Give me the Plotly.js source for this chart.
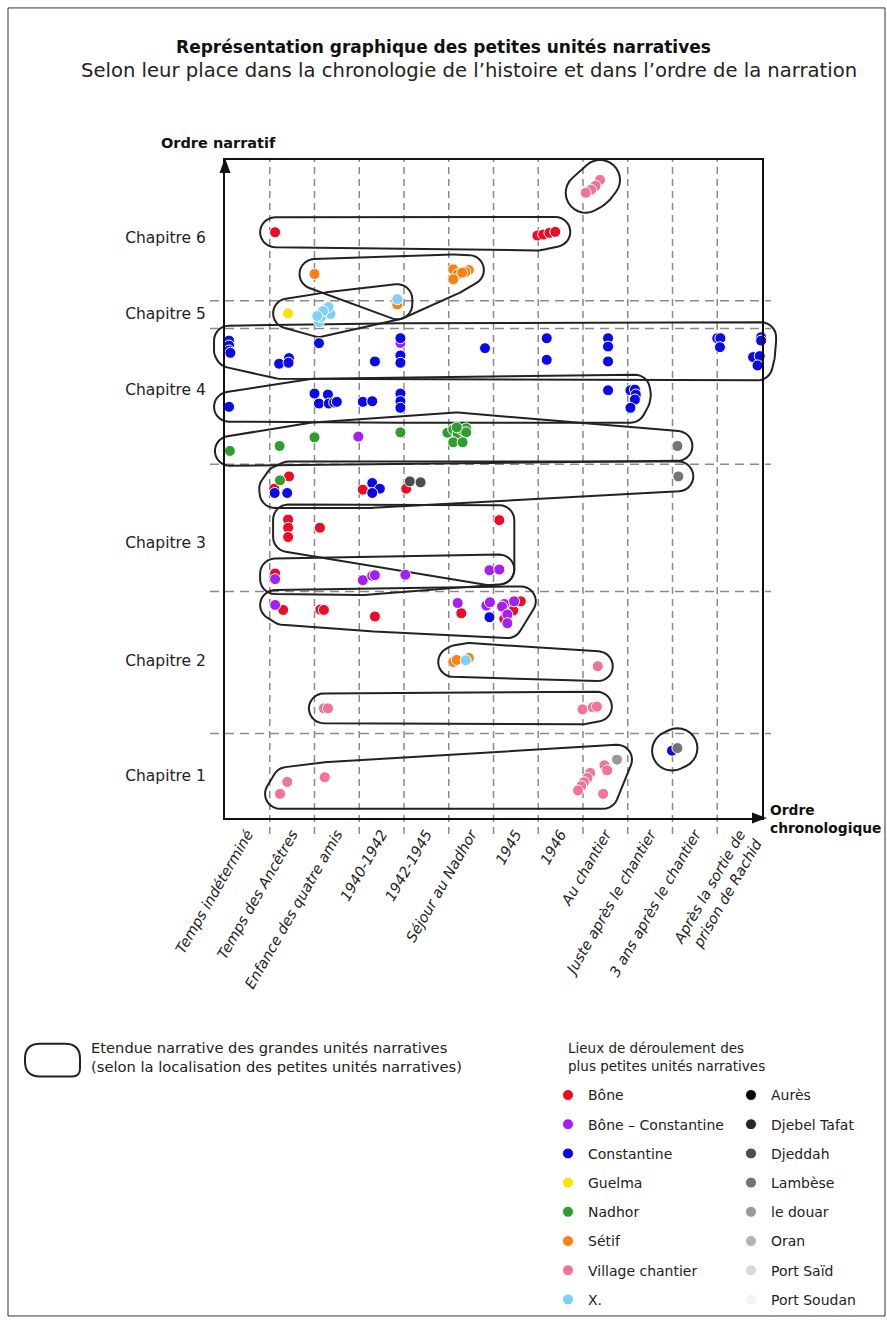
<!DOCTYPE html>
<html>
<head>
<meta charset="utf-8">
<script src="https://cdn.plot.ly/plotly-3.0.1.min.js"></script>
<style>body{margin:0;background:#fff}</style>
</head>
<body>
<div id="chart" style="width:887px;height:1328px"></div>
<script>
// periods of the story (x axis), one band per period
const periods = ['Temps indéterminé', 'Temps des Ancêtres', 'Enfance des quatre amis', '1940-1942', '1942-1945',
    'Séjour au Nadhor', '1945', '1946', 'Au chantier', 'Juste après le chantier', '3 ans après le chantier',
    'Après la sortie de<br>prison de Rachid'];

// narrative order (y axis)
const chapters = ['Chapitre 1', 'Chapitre 2', 'Chapitre 3', 'Chapitre 4', 'Chapitre 5', 'Chapitre 6'];
const chapterLabelY = [4.3, 15.8, 27.7, 43.1, 50.7, 58.4];
const chapterBreaks = [8.5, 22.8, 35.6, 49.25, 52.05];

// places where the smallest units happen
const places = ['Bône', 'Bône – Constantine', 'Constantine', 'Guelma', 'Nadhor', 'Sétif', 'Village chantier', 'X.',
    'Aurès', 'Djebel Tafat', 'Djeddah', 'Lambèse', 'le douar', 'Oran', 'Port Saïd', 'Port Soudan'];
const placeCodes = ['B', 'BC', 'C', 'G', 'N', 'S', 'V', 'X', 'AU', 'DT', 'DJ', 'LA', 'DO', 'OR', 'PS', 'PSO'];
const placeColors = ['#ec0c24', '#a61ef0', '#0a0ae6', '#ffe200', '#2f9e2f', '#fb8112', '#f27396', '#7fd0f6',
    '#000000', '#262626', '#4d4d4d', '#747474', '#999999', '#b3b3b3', '#d9d9d9', '#f4f4f4'];

// petites unités narratives [time, narrative order, place], grouped by grande unité
const uniteChap6Haut = [[8.38, 64.2, 'V'], [8.28, 63.6, 'V'], [8.18, 63.2, 'V'], [8.06, 62.9, 'V']];
const uniteChap6 = [[1.12, 58.93, 'B'], [6.98, 58.6, 'B'], [7.11, 58.7, 'B'], [7.25, 58.87, 'B'], [7.38, 58.97, 'B']];
const uniteSetif = [[2.0, 54.73, 'S'], [5.10, 55.2, 'S'], [5.20, 54.7, 'S'], [5.10, 54.2, 'S'], [5.45, 55.13, 'S'],
    [5.37, 54.93, 'S'], [5.30, 54.87, 'S'], [3.85, 51.67, 'S']];
const uniteChap5 = [[1.41, 50.77, 'G'], [2.10, 49.9, 'X'], [2.23, 50.9, 'X'], [2.36, 50.7, 'X'], [2.31, 51.4, 'X'],
    [2.14, 50.4, 'X'], [2.19, 51.0, 'X'], [2.06, 50.5, 'X'], [3.85, 52.2, 'X'], [3.85, 51.67, 'S']];
const uniteChap45 = [[0.09, 48.03, 'C'], [0.09, 47.53, 'C'], [0.09, 47.03, 'C'], [0.12, 46.8, 'C'], [1.21, 45.7, 'C'],
    [1.43, 46.27, 'C'], [1.42, 45.8, 'C'], [2.10, 47.77, 'C'], [3.35, 45.93, 'C'], [3.92, 48.27, 'C'], [3.92, 47.8, 'BC'],
    [3.92, 46.53, 'C'], [3.92, 45.8, 'C'], [5.81, 47.27, 'C'], [7.19, 48.27, 'C'], [7.19, 46.1, 'C'], [8.56, 48.27, 'C'],
    [8.56, 47.43, 'C'], [8.56, 45.93, 'C'], [11.0, 48.27, 'C'], [11.07, 48.27, 'C'], [11.06, 47.37, 'C'],
    [11.98, 48.37, 'C'], [11.98, 48.03, 'C'], [11.80, 46.37, 'C'], [11.95, 46.47, 'C'], [11.90, 45.53, 'C']];
const uniteChap4 = [[0.09, 41.37, 'C'], [2.0, 42.7, 'C'], [2.30, 42.6, 'C'], [2.10, 41.7, 'C'], [2.32, 41.7, 'C'],
    [2.44, 41.8, 'C'], [2.50, 41.87, 'C'], [3.08, 41.87, 'C'], [3.29, 41.93, 'C'], [3.92, 42.7, 'C'], [3.92, 41.93, 'C'],
    [3.92, 41.27, 'C'], [8.56, 43.03, 'C'], [9.06, 43.03, 'C'], [9.16, 43.1, 'C'], [9.18, 42.6, 'C'], [9.16, 42.1, 'C'],
    [9.06, 41.27, 'C']];
const uniteNadhor = [[0.11, 36.93, 'N'], [1.22, 37.43, 'N'], [2.0, 38.3, 'N'], [2.98, 38.37, 'BC'], [3.92, 38.8, 'N'],
    [4.97, 38.77, 'N'], [5.10, 39.1, 'N'], [5.20, 38.7, 'N'], [5.30, 39.03, 'N'], [5.39, 39.2, 'N'], [5.39, 38.8, 'N'],
    [5.10, 37.8, 'N'], [5.31, 37.8, 'N'], [5.18, 39.3, 'N'], [10.11, 37.43, 'LA']];
const uniteChap34 = [[1.23, 33.97, 'N'], [1.43, 34.37, 'B'], [1.10, 33.13, 'B'], [1.11, 32.7, 'C'], [1.39, 32.7, 'C'],
    [3.08, 33.03, 'B'], [3.29, 33.7, 'C'], [3.46, 33.13, 'C'], [3.29, 32.7, 'C'], [4.05, 33.13, 'B'], [4.13, 33.87, 'DJ'],
    [4.37, 33.77, 'DJ'], [10.13, 34.37, 'LA']];
const uniteChap3a = [[1.41, 30.03, 'B'], [1.41, 29.2, 'B'], [1.41, 28.27, 'B'], [2.12, 29.2, 'B'], [6.13, 29.97, 'B'],
    [5.91, 24.93, 'BC'], [6.13, 25.0, 'BC']];
const uniteChap3b = [[1.12, 24.6, 'B'], [1.12, 24.03, 'BC'], [3.08, 23.93, 'BC'], [3.29, 24.37, 'BC'], [3.35, 24.43, 'BC'],
    [4.03, 24.47, 'BC'], [5.91, 24.93, 'BC'], [6.13, 25.0, 'BC']];
const uniteChap2a = [[1.12, 21.43, 'BC'], [1.30, 20.93, 'B'], [2.13, 20.97, 'B'], [2.21, 20.93, 'B'], [3.35, 20.27, 'B'],
    [5.20, 21.63, 'BC'], [5.28, 20.6, 'B'], [5.84, 21.37, 'BC'], [5.92, 21.7, 'BC'], [6.24, 21.53, 'BC'],
    [6.19, 21.27, 'BC'], [6.46, 21.8, 'BC'], [6.61, 21.8, 'B'], [5.91, 20.2, 'C'], [6.44, 20.87, 'B'], [6.28, 20.6, 'B'],
    [6.24, 20.03, 'B'], [6.31, 20.47, 'BC'], [6.31, 19.6, 'BC']];
const uniteChap2b = [[5.10, 15.7, 'S'], [5.18, 15.9, 'S'], [5.45, 16.1, 'S'], [5.38, 15.87, 'X'], [8.33, 15.27, 'V']];
const uniteChap2c = [[2.21, 11.03, 'V'], [2.30, 11.03, 'V'], [7.99, 10.93, 'V'], [8.22, 11.13, 'V'], [8.31, 11.2, 'V']];
const uniteChap1a = [[1.39, 3.63, 'V'], [1.23, 2.43, 'V'], [2.23, 4.1, 'V'], [8.16, 4.53, 'V'], [8.10, 4.03, 'V'],
    [8.02, 3.6, 'V'], [7.96, 3.2, 'V'], [7.89, 2.77, 'V'], [8.48, 5.3, 'V'], [8.54, 4.8, 'V'], [8.45, 2.43, 'V'],
    [8.76, 5.87, 'DO']];
const uniteChap1b = [[9.99, 6.77, 'C'], [10.11, 7.03, 'LA']];

const grandesUnites = [uniteChap6Haut, uniteChap6, uniteSetif, uniteChap5, uniteChap45, uniteChap4, uniteNadhor,
    uniteChap34, uniteChap3a, uniteChap3b, uniteChap2a, uniteChap2b, uniteChap2c, uniteChap1a, uniteChap1b];


const FONT = 'DejaVu Sans, sans-serif';
const W = 887, H = 1328;
const M = { l: 225, r: 125, t: 160, b: 506 };
const plotW = W - M.l - M.r;
const plotH = H - M.t - M.b;
const X_MAX = periods.length;
const Y_MAX = 66.2;
const paperX = px => (px - M.l) / plotW;
const paperY = py => (H - M.b - py) / plotH;

// one trace per place, a unit shared by two grandes unités is drawn once
const seen = new Set();
const byPlace = placeCodes.map(() => ({ x: [], y: [] }));
grandesUnites.forEach(gu => gu.forEach(([x, y, code]) => {
    const key = x + '|' + y + '|' + code;
    if (seen.has(key)) return;
    seen.add(key);
    const i = placeCodes.indexOf(code);
    byPlace[i].x.push(x);
    byPlace[i].y.push(y);
}));

const traces = places.map((name, i) => ({
    type: 'scatter',
    mode: 'markers',
    name: name,
    x: byPlace[i].x.length ? byPlace[i].x : [null],
    y: byPlace[i].y.length ? byPlace[i].y : [null],
    marker: { color: placeColors[i], size: 11, line: { color: '#fff', width: 1 } },
    cliponaxis: false,
    legend: i < 8 ? 'legend' : 'legend2',
    legendgroup: name,
    hoverinfo: 'name',
}));

// outline around a grande unité: convex hull of its points, padded
function hull(pts) {
    const p = pts.slice().sort((a, b) => a[0] - b[0] || a[1] - b[1]);
    if (p.length < 2) return p;
    const cross = (o, a, b) => (a[0] - o[0]) * (b[1] - o[1]) - (a[1] - o[1]) * (b[0] - o[0]);
    const lower = [], upper = [];
    for (const q of p) {
        while (lower.length >= 2 && cross(lower[lower.length - 2], lower[lower.length - 1], q) <= 0) lower.pop();
        lower.push(q);
    }
    for (const q of p.slice().reverse()) {
        while (upper.length >= 2 && cross(upper[upper.length - 2], upper[upper.length - 1], q) <= 0) upper.pop();
        upper.push(q);
    }
    lower.pop(); upper.pop();
    return lower.concat(upper);
}

function loopPath(points, pad) {
    const sx = plotW / X_MAX, sy = plotH / Y_MAX;
    const h = hull(points.map(([x, y]) => [x * sx, y * sy]));
    const ring = [];
    if (h.length === 1) {
        for (let k = 0; k < 36; k++) {
            const a = k * Math.PI / 18;
            ring.push([h[0][0] + pad * Math.cos(a), h[0][1] + pad * Math.sin(a)]);
        }
    } else {
        const n = h.length;
        for (let i = 0; i < n; i++) {
            const prev = h[(i - 1 + n) % n], cur = h[i], next = h[(i + 1) % n];
            const a0 = Math.atan2(-(cur[0] - prev[0]), cur[1] - prev[1]);
            const a1 = Math.atan2(-(next[0] - cur[0]), next[1] - cur[1]);
            let sweep = a1 - a0;
            while (sweep < 0) sweep += 2 * Math.PI;
            const steps = Math.max(2, Math.ceil(sweep / (Math.PI / 14)));
            for (let k = 0; k <= steps; k++) {
                const a = a0 + sweep * k / steps;
                ring.push([cur[0] + pad * Math.cos(a), cur[1] + pad * Math.sin(a)]);
            }
        }
    }
    return 'M' + ring.map(([X, Y]) => (X / sx / X_MAX).toFixed(5) + ',' + (Y / sy / Y_MAX).toFixed(5)).join('L') + 'Z';
}

const shapes = [];

// dashed period separators and chapter separators
for (let i = 1; i < X_MAX; i++) {
    shapes.push({ type: 'line', xref: 'x', yref: 'paper', x0: i, x1: i, y0: paperY(838), y1: 1,
        line: { color: '#8a8a8a', width: 1.5, dash: '7px,5px' }, layer: 'below' });
}
chapterBreaks.forEach(y => {
    shapes.push({ type: 'line', xref: 'paper', yref: 'y', x0: paperX(210), x1: paperX(771), y0: y, y1: y,
        line: { color: '#8a8a8a', width: 1.5, dash: '9px,6px' }, layer: 'below' });
});

grandesUnites.forEach(gu => {
    const pad = gu.length <= 4 ? 20 : 15;
    shapes.push({ type: 'path', xref: 'x domain', yref: 'y domain', path: loopPath(gu, pad),
        line: { color: '#222', width: 2 }, fillcolor: 'rgba(0,0,0,0)', layer: 'below' });
});

// axis arrow heads
const tri = (pts) => 'M' + pts.map(([a, b]) => paperX(a).toFixed(5) + ',' + paperY(b).toFixed(5)).join('L') + 'Z';
shapes.push({ type: 'path', xref: 'paper', yref: 'paper', path: tri([[225, 158], [219.5, 173], [230.5, 173]]),
    fillcolor: '#111', line: { width: 0 } });
shapes.push({ type: 'path', xref: 'paper', yref: 'paper', path: tri([[767, 822], [752, 816.5], [752, 827.5]]),
    fillcolor: '#111', line: { width: 0 } });

// legend key for the outlines
(function () {
    const x0 = 25, x1 = 80, y0 = 1049, y1 = 1082, r = 15;
    const P = (a, b) => paperX(a).toFixed(5) + ',' + paperY(b).toFixed(5);
    const path = 'M' + P(x0 + r, y0) + 'L' + P(x1 - r, y0) + 'Q' + P(x1, y0) + ' ' + P(x1, y0 + r) +
        'L' + P(x1, y1 - 8) + 'Q' + P(x1, y1) + ' ' + P(x1 - 8, y1) + 'L' + P(x0 + r, y1) +
        'Q' + P(x0, y1) + ' ' + P(x0, y1 - r) + 'L' + P(x0, y0 + r) + 'Q' + P(x0, y0) + ' ' + P(x0 + r, y0) + 'Z';
    shapes.push({ type: 'path', xref: 'paper', yref: 'paper', path: path, line: { color: '#222', width: 2 } });
})();

// page frame
shapes.push({ type: 'rect', xref: 'paper', yref: 'paper', x0: paperX(8), x1: paperX(885), y0: paperY(1323), y1: paperY(7),
    line: { color: '#333', width: 1 } });

const annotations = [
    { text: 'Selon leur place dans la chronologie de l’histoire et dans l’ordre de la narration',
        xref: 'paper', yref: 'paper', x: paperX(469), y: paperY(70), xanchor: 'center', yanchor: 'middle',
        showarrow: false, font: { family: FONT, size: 19.6, color: '#222' } },
    { text: '<b>Ordre narratif</b>', xref: 'paper', yref: 'paper', x: paperX(159), y: paperY(143),
        xanchor: 'left', yanchor: 'middle', showarrow: false, font: { family: FONT, size: 14.5, color: '#111' } },
    { text: '<b>Ordre<br>chronologique</b>', xref: 'paper', yref: 'paper', x: paperX(768), y: paperY(823),
        xanchor: 'left', yanchor: 'middle', align: 'left', showarrow: false, font: { family: FONT, size: 13.8, color: '#111' } },
    { text: 'Etendue narrative des grandes unités narratives<br>(selon la localisation des petites unités narratives)',
        xref: 'paper', yref: 'paper', x: paperX(89), y: paperY(1062), xanchor: 'left', yanchor: 'middle', align: 'left',
        showarrow: false, font: { family: FONT, size: 14.7, color: '#222' } },
    { text: 'Lieux de déroulement des<br>plus petites unités narratives',
        xref: 'paper', yref: 'paper', x: paperX(566), y: paperY(1062), xanchor: 'left', yanchor: 'middle', align: 'left',
        showarrow: false, font: { family: FONT, size: 13.5, color: '#222' } },
];

const legendBase = {
    yanchor: 'top', xanchor: 'left', traceorder: 'grouped', tracegroupgap: 8,
    font: { family: FONT, size: 14, color: '#222' }, bgcolor: 'rgba(0,0,0,0)', borderwidth: 0,
};

const layout = {
    width: W,
    height: H,
    margin: M,
    paper_bgcolor: '#fff',
    plot_bgcolor: 'rgba(0,0,0,0)',
    font: { family: FONT, color: '#222' },
    title: {
        text: '<b>Représentation graphique des petites unités narratives</b>',
        font: { family: FONT, size: 17, color: '#111' },
        x: 0.5, xref: 'container', xanchor: 'center',
        y: 1 - 47 / H, yref: 'container', yanchor: 'middle',
    },
    xaxis: {
        range: [0, X_MAX],
        tickmode: 'array',
        tickvals: periods.map((_, i) => i + 0.5),
        ticktext: periods,
        tickangle: -60,
        ticks: '',
        showgrid: false,
        zeroline: false,
        showline: true,
        mirror: true,
        linecolor: '#111',
        linewidth: 2,
        tickfont: { family: FONT, size: 14.5, style: 'italic', color: '#222' },
        fixedrange: true,
    },
    yaxis: {
        range: [0, Y_MAX],
        tickmode: 'array',
        tickvals: chapterLabelY,
        ticktext: chapters,
        ticks: '',
        ticklabelstandoff: 14,
        showgrid: false,
        zeroline: false,
        showline: true,
        mirror: true,
        linecolor: '#111',
        linewidth: 2,
        tickfont: { family: FONT, size: 15.5, color: '#222' },
        fixedrange: true,
    },
    legend: Object.assign({}, legendBase, { x: paperX(548), y: paperY(1085) }),
    legend2: Object.assign({}, legendBase, { x: paperX(731), y: paperY(1085) }),
    shapes: shapes,
    annotations: annotations,
    showlegend: true,
};

Plotly.newPlot('chart', traces, layout, { displayModeBar: false, staticPlot: true });
</script>
</body>
</html>
